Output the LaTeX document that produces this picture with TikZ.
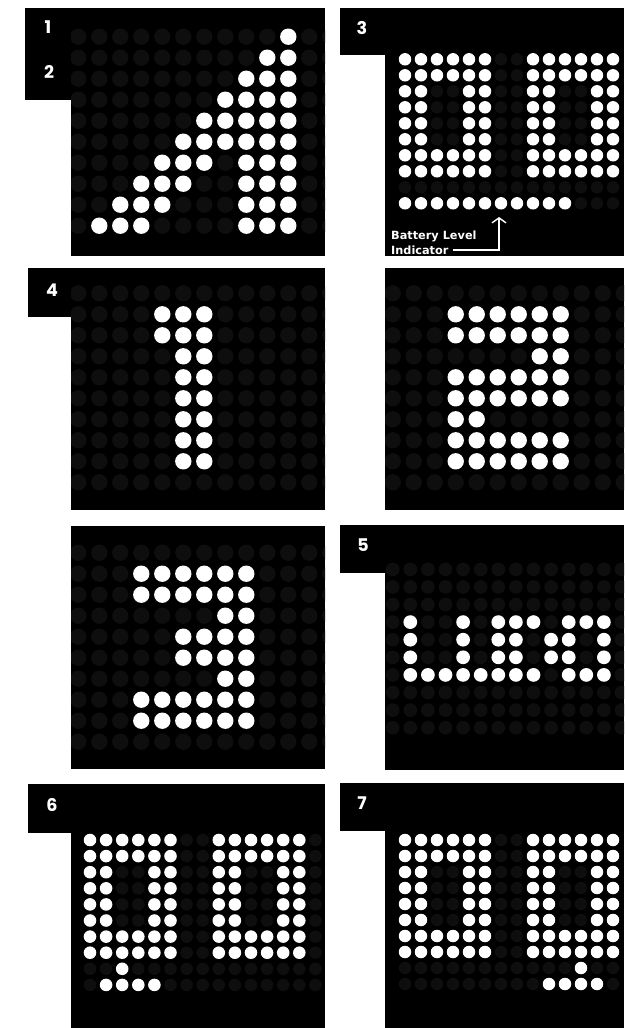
\documentclass[tikz,border=0pt]{standalone}
\usepackage{fontspec}
\usepackage{tikz}
\usetikzlibrary{arrows.meta,positioning,calc}
\newfontfamily\tabfont{Poppins}
\newfontfamily\notefont{DejaVu Sans}
\definecolor{ledgray}{RGB}{14,14,14}

\tikzset{
  panelbg/.style={fill=black},
  tabbox/.style={fill=black},
  tabnum/.style={text=white, inner sep=0pt, font=\tabfont\bfseries\fontsize{17.5}{17.5}\selectfont},
  ledon/.style={fill=white},
  ledoff/.style={fill=ledgray},
  note/.style={text=white, inner sep=0pt, anchor=west, font=\notefont\bfseries\fontsize{11.3}{12}\selectfont},
  battarrow/.style={draw=white, line width=1.4pt, -{Straight Barb[length=5pt,width=14pt]}}
}

% dim grid: x of col 0, y of row 0, pitch, last col, last row
\newcommand{\ledgrid}[5]{%
  \foreach \ci in {0,...,#4}{\foreach \ri in {0,...,#5}{%
    \fill[ledoff] ({#1+\ci*#3},{#2+\ri*#3}) circle[radius=0.39*#3];}}}
% lit runs: row/first col/last col
\newcommand{\ledruns}[4]{%
  \foreach \ri/\ca/\cb in {#4}{\foreach \ci in {\ca,...,\cb}{%
    \fill[ledon] ({#1+\ci*#3},{#2+\ri*#3}) circle[radius=0.39*#3];}}}
% two zeros side by side
\newcommand{\dblzero}[3]{%
  \foreach \ri in {0,1,6,7}{\foreach \ci in {0,1,2,3,4,5,8,9,10,11,12,13}{%
    \fill[ledon] ({#1+\ci*#3},{#2+\ri*#3}) circle[radius=0.39*#3];}}
  \foreach \ri in {2,3,4,5}{\foreach \ci in {0,1,4,5,8,9,12,13}{%
    \fill[ledon] ({#1+\ci*#3},{#2+\ri*#3}) circle[radius=0.39*#3];}}}

\begin{document}
\begin{tikzpicture}[x=1pt, y=-1pt]
  \useasboundingbox (0,0) rectangle (624,1028);

  % 1 / 2 : signal bars
  \begin{scope}
    \clip (71,8) rectangle (325,256);
    \fill[panelbg] (71,8) rectangle (325,256);
    \ledgrid{78.3}{36.7}{21}{12}{9}
    \ledruns{78.3}{36.7}{21}{0/10/10, 1/9/10, 2/8/10, 3/7/10, 4/6/10, 5/5/10,
      6/4/6, 6/8/10, 7/3/5, 7/8/10, 8/2/4, 8/8/10, 9/1/3, 9/8/10}
  \end{scope}
  \fill[tabbox] (25,8) rectangle (71,100);
  \node[tabnum] (num1) at (48,27) {1};
  \node[tabnum] (num2) at (49,72) {2};

  % 3 : 00 with battery bar
  \begin{scope}
    \clip (385,8) rectangle (624,256);
    \fill[panelbg] (385,8) rectangle (624,256);
    \ledgrid{405}{59.3}{16}{13}{9}
    \dblzero{405}{59.3}{16}
    \ledruns{405}{59.3}{16}{9/0/10}
  \end{scope}
  \fill[tabbox] (340,8) rectangle (385,55);
  \node[tabnum] (num3) at (362,28) {3};
  \node[note] (battery) at (391,236) {Battery Level};
  \node[note] (ind) at (391,250) {Indicator};
  \coordinate (battdot) at (499,217);
  \draw[battarrow] ([xshift=4pt]ind.east) -| (battdot);

  % 4 : digit 1
  \begin{scope}
    \clip (71,268) rectangle (325,510);
    \fill[panelbg] (71,268) rectangle (325,510);
    \ledgrid{78.3}{293.3}{21}{12}{9}
    \ledruns{78.3}{293.3}{21}{1/4/6, 2/4/6, 3/5/6, 4/5/6, 5/5/6, 6/5/6, 7/5/6, 8/5/6}
  \end{scope}
  \fill[tabbox] (28,268) rectangle (71,317);
  \node[tabnum] (num4) at (52,290) {4};

  % digit 2
  \begin{scope}
    \clip (385,268) rectangle (624,510);
    \fill[panelbg] (385,268) rectangle (624,510);
    \ledgrid{392.7}{293.3}{21}{11}{9}
    \ledruns{392.7}{293.3}{21}{1/3/8, 2/3/8, 3/7/8, 4/3/8, 5/3/8, 6/3/4, 7/3/8, 8/3/8}
  \end{scope}

  % digit 3
  \begin{scope}
    \clip (71,526) rectangle (325,769);
    \fill[panelbg] (71,526) rectangle (325,769);
    \ledgrid{78.3}{552.7}{21}{12}{9}
    \ledruns{78.3}{552.7}{21}{1/3/8, 2/3/8, 3/7/8, 4/5/8, 5/5/8, 6/7/8, 7/3/8, 8/3/8}
  \end{scope}

  % 5 : small text
  \begin{scope}
    \clip (385,525) rectangle (624,770);
    \fill[panelbg] (385,525) rectangle (624,770);
    \ledgrid{392.7}{569.3}{17.6}{13}{9}
    \ledruns{392.7}{569.3}{17.6}{3/1/1, 3/4/4, 3/6/8, 3/10/12,
      4/1/1, 4/4/4, 4/6/7, 4/9/10, 4/12/12,
      5/1/1, 5/4/4, 5/6/7, 5/9/10, 5/12/12,
      6/1/8, 6/10/12}
  \end{scope}
  \fill[tabbox] (340,525) rectangle (385,573);
  \node[tabnum] (num5) at (363,545) {5};

  % 6 : 00 with left tail
  \begin{scope}
    \clip (71,784) rectangle (325,1028);
    \fill[panelbg] (71,784) rectangle (325,1028);
    \ledgrid{90}{840}{16.1}{14}{9}
    \dblzero{90}{840}{16.1}
    \ledruns{90}{840}{16.1}{8/2/2, 9/1/4}
  \end{scope}
  \fill[tabbox] (28,784) rectangle (71,833);
  \node[tabnum] (num6) at (52,805) {6};

  % 7 : 00 with right tail
  \begin{scope}
    \clip (385,783) rectangle (624,1028);
    \fill[panelbg] (385,783) rectangle (624,1028);
    \ledgrid{405}{840}{16}{13}{9}
    \dblzero{405}{840}{16}
    \ledruns{405}{840}{16}{8/11/11, 9/9/12}
  \end{scope}
  \fill[tabbox] (340,783) rectangle (385,831);
  \node[tabnum] (num7) at (362,803) {7};
\end{tikzpicture}
\end{document}
